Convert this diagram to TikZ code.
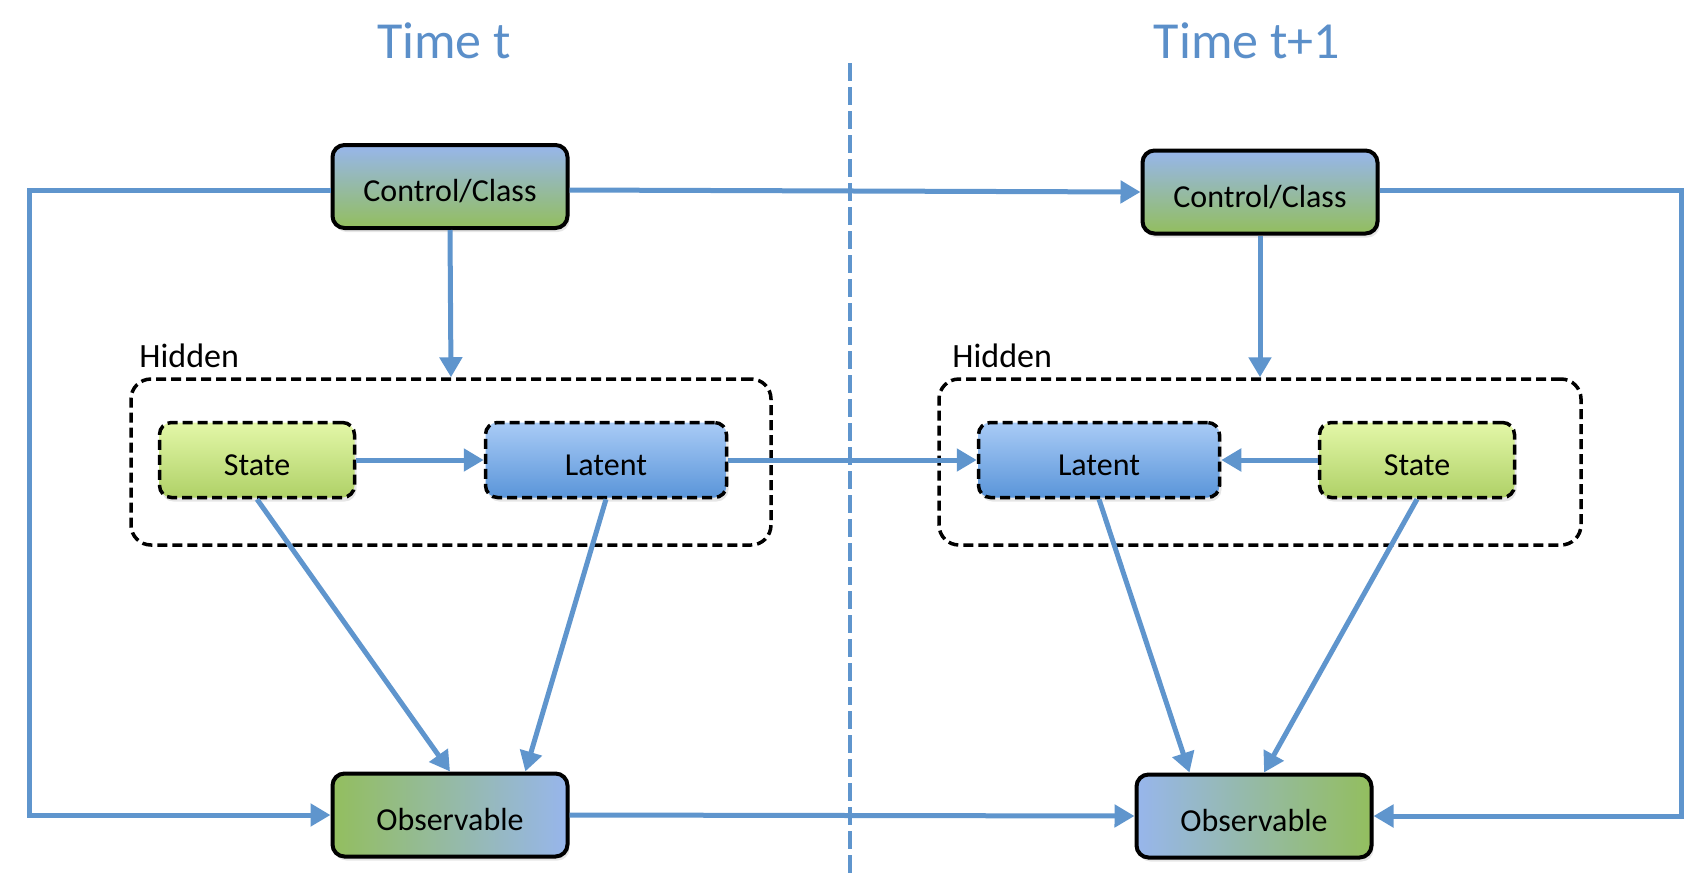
\documentclass[tikz,border=0pt]{standalone}
\usepackage{fontspec}
\setmainfont{Carlito}
\usetikzlibrary{arrows.meta,calc,shadows,positioning}
\definecolor{linkblue}{HTML}{5F95CD}
\definecolor{titleblue}{HTML}{5B8FC9}
\definecolor{boxblue}{HTML}{97B6EC}
\definecolor{boxgreen}{HTML}{93BE5E}
\definecolor{stateltop}{HTML}{E3F7A8}
\definecolor{statebot}{HTML}{AFD167}
\definecolor{latenttop}{HTML}{A9CBF6}
\definecolor{latentbot}{HTML}{5A95D9}

\begin{document}
\begin{tikzpicture}[x=1pt,y=-1pt,
box/.style = {rounded corners=12pt, draw=black, line width=4pt, minimum width=235pt,
  minimum height=83pt, inner sep=0pt, text height=30pt, text depth=0pt,
  font=\fontsize{32}{36}\selectfont,
  drop shadow={opacity=0.2, shadow xshift=2pt, shadow yshift=-4pt}},
inner box/.style = {box, dashed, dash pattern=on 10pt off 5pt, line width=3.5pt, minimum height=75pt},
control/.style = {box, top color=boxblue, bottom color=boxgreen},
observable/.style = {box, left color=boxgreen, right color=boxblue},
observable rev/.style = {box, left color=boxblue, right color=boxgreen},
state/.style = {inner box, minimum width=195pt, top color=stateltop, bottom color=statebot},
latent/.style = {inner box, minimum width=241pt, top color=latenttop, bottom color=latentbot},
hidden/.style = {draw=black, dashed, dash pattern=on 10pt off 5pt, line width=3.5pt,
  rounded corners=20pt, minimum height=166pt, inner sep=0pt},
link/.style = {draw=linkblue, line width=5pt, -{Triangle[length=20pt,width=22pt]}},
title/.style = {text=titleblue, font=\fontsize{52}{60}\selectfont}]
\useasboundingbox (0,0) rectangle (1708,876);

\node[title] (t1) at (444,41) {Time t};
\node[title] (t2) at (1247,41) {Time t+1};
\coordinate (d1) at (850,63);
\coordinate (d2) at (850,876);
\draw[linkblue, line width=3.5pt, dash pattern=on 18pt off 6pt] (d1) -- (d2);

% time t
\node[hidden, minimum width=640pt] (h1) at (451,462) {};
\node[above right=9pt and 10pt of h1.north west, inner sep=0pt, font=\fontsize{34}{38}\selectfont] (hl1) {Hidden};
\node[control] (cc1) at (450,186.5) {Control/Class};
\node[state] (st1) at (257,460) {State};
\node[latent] (lt1) at (606,460) {Latent};
\node[observable] (ob1) at (450,815) {Observable};

% time t+1
\node[hidden, minimum width=642pt] (h2) at (1260,462) {};
\node[above right=9pt and 15pt of h2.north west, inner sep=0pt, font=\fontsize{34}{38}\selectfont] (hl2) {Hidden};
\node[control] (cc2) at (1260,192) {Control/Class};
\node[latent] (lt2) at (1099,460) {Latent};
\node[state] (st2) at (1417,460) {State};
\node[observable rev] (ob2) at (1254,816) {Observable};

\coordinate (lc) at (29,190);
\coordinate (rc) at (1681,190);

\draw[link] (cc1.south) -- (h1.north);
\draw[link] (st1.east) -- (lt1.west);
\draw[link] (st1.south) -- (ob1.north);
\draw[link] (lt1.south) -- (ob1.30);
\draw[link] (cc1.west |- lc) -- (lc) |- (ob1.west);

\draw[link] (cc2.south) -- (h2.north);
\draw[link] (st2.west) -- (lt2.east);
\draw[link] (lt2.south) -- (ob2.146);
\draw[link] (st2.south) -- (ob2.77);
\draw[link] (cc2.east |- rc) -- (rc) |- (ob2.east);

\draw[link] (cc1.east |- lc) -- (cc2.west);
\draw[link] (lt1.east) -- (lt2.west);
\draw[link] (ob1.east) -- (ob2.west);
\end{tikzpicture}
\end{document}
